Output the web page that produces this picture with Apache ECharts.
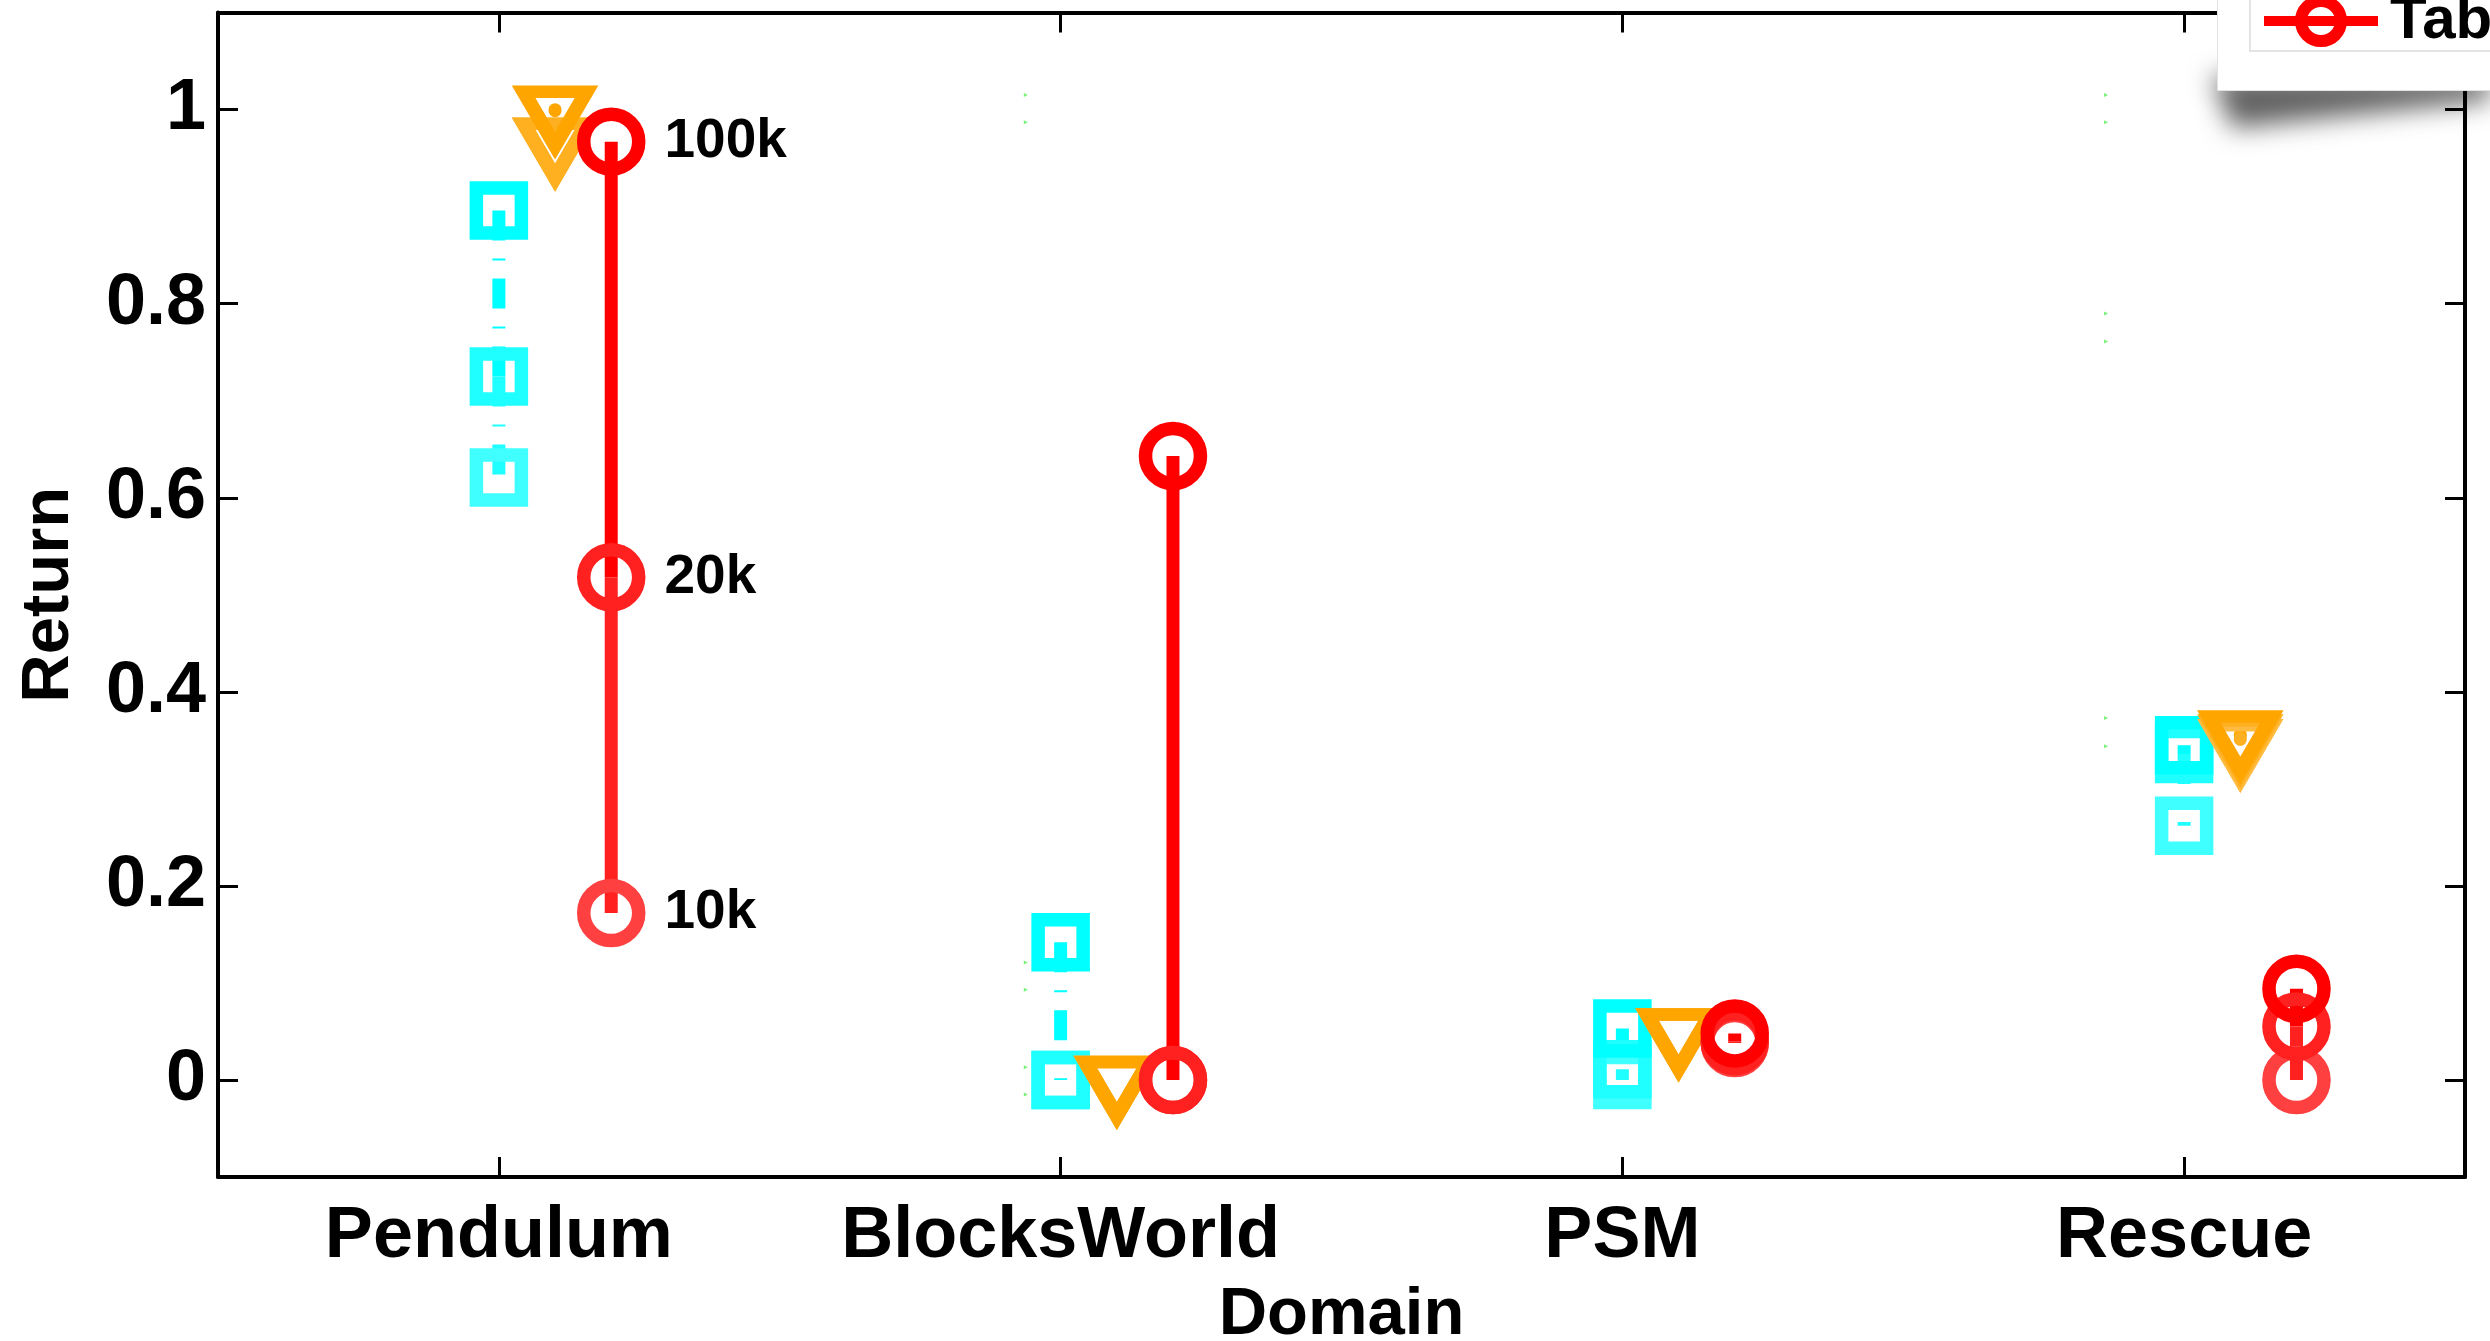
<!DOCTYPE html>
<html>
<head>
<meta charset="utf-8">
<script src="https://cdn.jsdelivr.net/npm/echarts@6/dist/echarts.min.js"></script>
<style>
html, body { margin: 0; padding: 0; background: #ffffff; }
#chart { width: 2490px; height: 1341px; }
</style>
</head>
<body>
<div id="chart"></div>
<script>
// Domains along the x axis
const domains = ['Pendulum', 'BlocksWorld', 'PSM', 'Rescue'];
// Sample budgets (drawn light -> dark)
const budgets = ['10k', '20k', '100k'];
// Return axis ticks
const yTicks = [0, 0.2, 0.4, 0.6, 0.8, 1];

// Return per domain, cyan squares
const cyan10k  = [0.621, 0.000, 0.000, 0.262];
const cyan20k  = [0.725, 0.000, 0.011, 0.336];
const cyan100k = [0.896, 0.142, 0.053, 0.345];

// Return per domain, orange triangles
const orange10k  = [0.967, 0.000, 0.049, 0.347];
const orange20k  = [0.967, 0.000, 0.049, 0.352];
const orange100k = [1.000, 0.000, 0.049, 0.356];

// Return per domain, red circles (Tabular)
const tab10k  = [0.172, 0.000, 0.038, 0.000];
const tab20k  = [0.518, 0.000, 0.040, 0.055];
const tab100k = [0.967, 0.643, 0.048, 0.094];

// Faint green marks
const greenBlocksWorld = [1.015, 0.987, 0.121, 0.093, 0.013, -0.015];
const greenRescue      = [1.015, 0.987, 0.790, 0.761, 0.373, 0.344];

const FONT = '"Liberation Sans", Arial, Helvetica, sans-serif';

const methods = [
  { key: 'cyan', shift: 0, values: [cyan10k, cyan20k, cyan100k],
    colors: ['#40ffff', '#20ffff', '#00ffff'],
    symbol: 'rect', size: 45, rotate: 0, symOffset: [0, 0],
    dash: [30, 18, 2, 18], cap: 'butt' },
  { key: 'orange', shift: 0.1, values: [orange10k, orange20k, orange100k],
    colors: ['#ffbb40', '#ffb020', '#ffa500'],
    symbol: 'triangle', size: [63, 54], rotate: 180, symOffset: [0, 9],
    dash: [1, 26], cap: 'round' },
  { key: 'tab', shift: 0.2, values: [tab10k, tab20k, tab100k],
    colors: ['#ff4040', '#ff2020', '#ff0000'],
    symbol: 'circle', size: 55, rotate: 0, symOffset: [0, 0],
    dash: 'solid', cap: 'butt' }
];

const series = [];

methods.forEach(function (m) {
  // hollow markers, one series per budget
  m.values.forEach(function (vals, b) {
    series.push({
      type: 'scatter',
      xAxisIndex: 0, yAxisIndex: 0,
      symbol: m.symbol,
      symbolSize: m.size,
      symbolRotate: m.rotate,
      symbolOffset: m.symOffset,
      itemStyle: { color: 'rgba(0,0,0,0)', borderColor: m.colors[b], borderWidth: 13.5, opacity: 1 },
      label: {
        show: false, position: 'right', distance: 19,
        color: '#000', fontSize: 55, fontWeight: 'bold', fontFamily: FONT
      },
      data: vals.map(function (v, i) {
        const item = { value: [i + 1 + m.shift, v] };
        if (m.key === 'tab' && i === 0) {
          item.label = { show: true, formatter: budgets[b] };
        }
        return item;
      }),
      emphasis: { disabled: true },
      silent: true,
      z: 2
    });
  });
  // connecting segments: 10k->20k in the 20k colour, 20k->100k in the 100k colour
  for (let s = 2; s >= 1; s--) {
    domains.forEach(function (d, i) {
      const named = (m.key === 'tab' && s === 2 && i === 0);
      series.push({
        type: 'line',
        name: named ? 'Tabular' : (m.key + '-' + s + '-' + i),
        xAxisIndex: 0, yAxisIndex: 0,
        data: [[i + 1 + m.shift, m.values[s][i]], [i + 1 + m.shift, m.values[s - 1][i]]],
        symbol: m.key === 'tab' ? 'circle' : 'none',
        showSymbol: false,
        lineStyle: { color: m.colors[s], width: 13, type: m.dash, cap: m.cap },
        itemStyle: { color: m.colors[s] },
        emphasis: { disabled: true },
        silent: true,
        z: 2
      });
    });
  }
});

// tiny green marks
[[2 - 0.062, greenBlocksWorld], [4 - 0.139, greenRescue]].forEach(function (g) {
  series.push({
    type: 'scatter',
    xAxisIndex: 0, yAxisIndex: 0,
    symbol: 'triangle', symbolRotate: -90, symbolSize: 4,
    itemStyle: { color: '#55ee55' },
    data: g[1].map(function (v) { return [g[0], v]; }),
    silent: true,
    z: 1
  });
});

const axisLineStyle = { color: '#000', width: 4 };
const tickStyle = { color: '#000', width: 3 };
const domainTicks = [1, 2, 3, 4];

const option = {
  animation: false,
  backgroundColor: '#ffffff',
  grid: { left: 218, right: 25, top: 12.6, bottom: 164, outerBoundsMode: 'none', containLabel: false },
  xAxis: [
    {
      type: 'value', min: 0.5, max: 4.5, position: 'bottom',
      axisLine: { show: true, onZero: false, lineStyle: axisLineStyle },
      axisTick: { show: true, inside: true, length: 20, customValues: domainTicks, lineStyle: tickStyle },
      axisLabel: {
        show: true, customValues: domainTicks, margin: 24,
        formatter: function (v) { return domains[Math.round(v) - 1]; },
        fontSize: 72, fontWeight: 'bold', fontFamily: FONT, color: '#000'
      },
      splitLine: { show: false },
      name: 'Domain', nameLocation: 'middle', nameGap: 105,
      nameTextStyle: { fontSize: 67, fontWeight: 'bold', fontFamily: FONT, color: '#000' }
    },
    {
      type: 'value', min: 0.5, max: 4.5, position: 'top',
      axisLine: { show: true, onZero: false, lineStyle: axisLineStyle },
      axisTick: { show: true, inside: true, length: 20, customValues: domainTicks, lineStyle: tickStyle },
      axisLabel: { show: false },
      splitLine: { show: false }
    }
  ],
  yAxis: [
    {
      type: 'value', min: -0.1, max: 1.1, position: 'left',
      axisLine: { show: true, onZero: false, lineStyle: axisLineStyle },
      axisTick: { show: true, inside: true, length: 20, customValues: yTicks, lineStyle: tickStyle },
      axisLabel: {
        show: true, customValues: yTicks, margin: 12,
        fontSize: 72, fontWeight: 'bold', fontFamily: FONT, color: '#000'
      },
      splitLine: { show: false },
      name: 'Return', nameLocation: 'middle', nameGap: 135, nameRotate: 90,
      nameTextStyle: { fontSize: 67, fontWeight: 'bold', fontFamily: FONT, color: '#000' }
    },
    {
      type: 'value', min: -0.1, max: 1.1, position: 'right',
      axisLine: { show: true, onZero: false, lineStyle: axisLineStyle },
      axisTick: { show: true, inside: true, length: 20, customValues: yTicks, lineStyle: tickStyle },
      axisLabel: { show: false },
      splitLine: { show: false }
    }
  ],
  legend: {
    data: ['Tabular'],
    left: 2250, top: -9,
    orient: 'horizontal',
    itemWidth: 114, itemHeight: 50,
    padding: [0, 40, 0, 9],
    backgroundColor: '#ffffff',
    borderColor: '#e4e4e4', borderWidth: 2,
    itemStyle: { color: 'rgba(0,0,0,0)', borderColor: '#ff0000', borderWidth: 12 },
    lineStyle: { color: '#ff0000', width: 10 },
    textStyle: {
      color: '#000', fontSize: 60, lineHeight: 50, fontWeight: 'bold', fontFamily: FONT,
      padding: [0, 0, 0, 7]
    },
    selectedMode: false,
    z: 6
  },
  graphic: {
    elements: [
      {
        // soft wedge-shaped shadow under the legend panel (shape kept off-canvas, only its shadow shows)
        type: 'polygon', z: 4, silent: true,
        shape: { points: [[2212, 76 - 3000], [2490, 76 - 3000], [2490, 100 - 3000], [2232, 128 - 3000]] },
        style: {
          fill: '#000', shadowBlur: 26, shadowOffsetX: 0, shadowOffsetY: 3000,
          shadowColor: 'rgba(0,0,0,0.62)'
        }
      },
      {
        type: 'rect', left: 2217, top: -30, z: 5,
        shape: { width: 400, height: 120 },
        style: { fill: '#ffffff', stroke: '#e2e2e2', lineWidth: 1 },
        silent: true
      }
    ]
  },
  series: series
};

const chart = echarts.init(document.getElementById('chart'), null, { renderer: 'canvas' });
chart.setOption(option);
</script>
</body>
</html>
